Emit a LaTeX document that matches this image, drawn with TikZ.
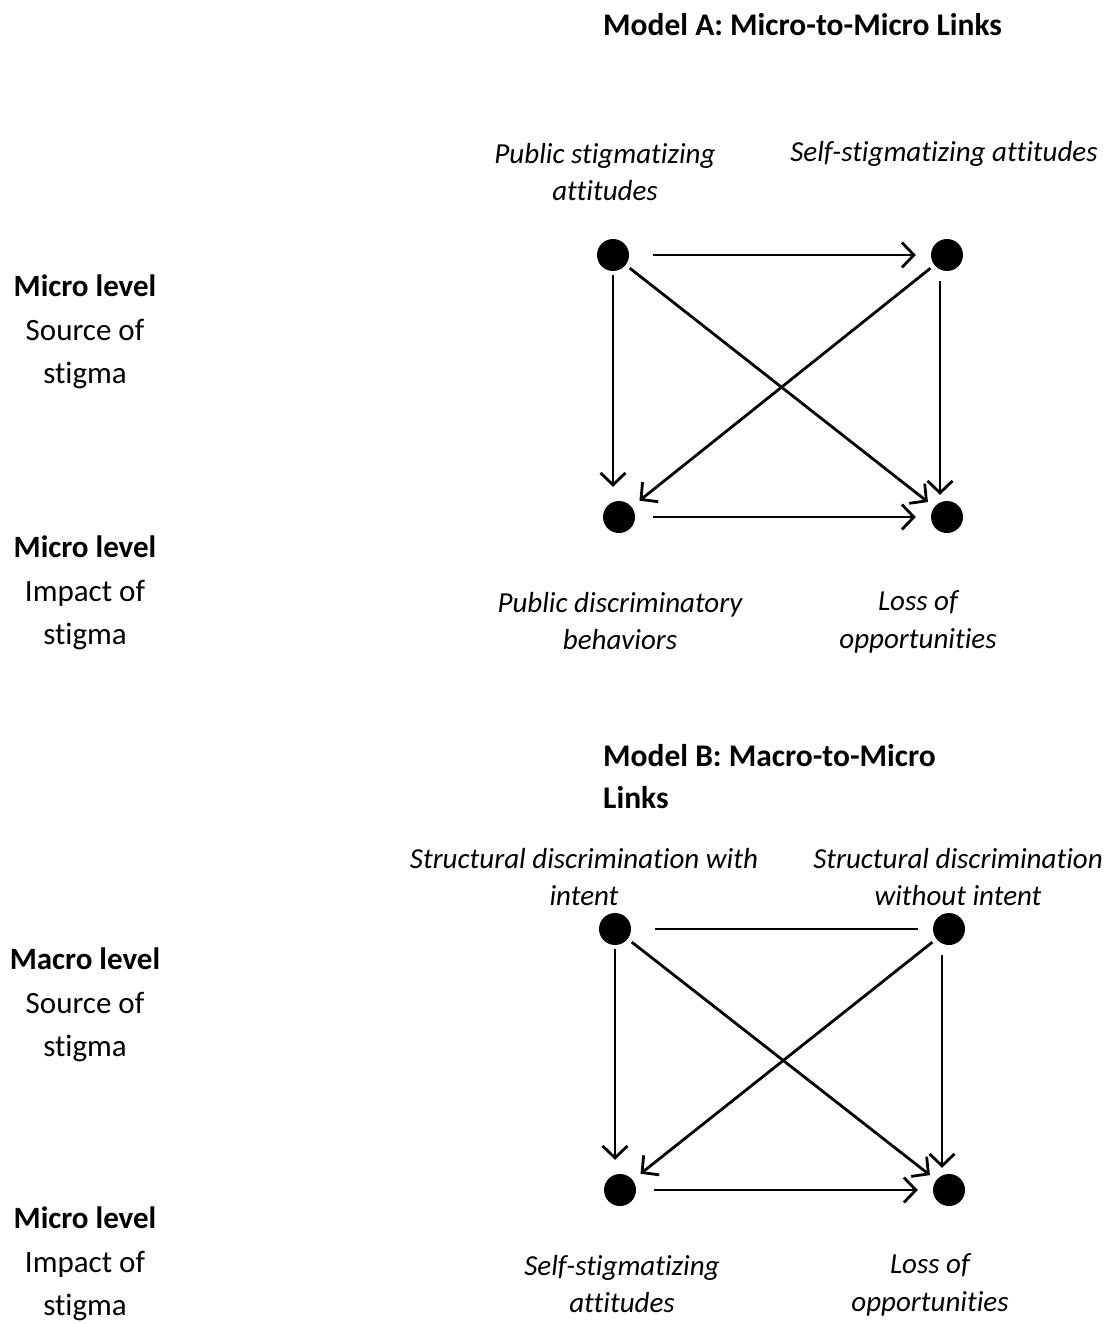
\documentclass[tikz,border=0pt]{standalone}
\usepackage{fontspec}
\setmainfont[Ligatures=NoCommon]{Carlito}
\usetikzlibrary{arrows.meta}
\begin{document}
\begin{tikzpicture}[x=1pt,y=-1pt,
  dot/.style={circle,fill=black,inner sep=0pt,minimum size=32pt},
  link/.style={line width=2.8pt,-{Straight Barb[length=12pt,width=25pt,line width=2.8pt]}},
  plainlink/.style={line width=2.8pt},
  side/.style={align=center,font=\fontsize{31}{43.5}\selectfont,inner sep=0pt},
  title/.style={align=left,anchor=west,font=\fontsize{31.5}{42}\selectfont\bfseries,inner sep=0pt},
  lab/.style={align=center,font=\fontsize{29}{37.5}\selectfont\itshape,inner sep=0pt}]
\useasboundingbox (0,0) rectangle (1107,1324);
% left labels
\node[side] (s1) at (85,332) {\textbf{Micro level}\\Source of\\stigma};
\node[side] (s2) at (85,593) {\textbf{Micro level}\\Impact of\\stigma};
\node[side] (s3) at (85,1005) {\textbf{Macro level}\\Source of\\stigma};
\node[side] (s4) at (85,1264) {\textbf{Micro level}\\Impact of\\stigma};
% Model A
\node[title] (ta) at (603,25) {Model A: Micro-to-Micro Links};
\node[lab] (la1) at (605,172) {Public stigmatizing\\attitudes};
\node[lab] (la2) at (944,154) {Self-stigmatizing attitudes};
\node[lab] (la3) at (620,621) {Public discriminatory\\behaviors};
\node[lab] (la4) at (918,622) {Loss of\\opportunities};
\node[dot] (a1) at (613,255) {};
\node[dot] (a2) at (947,255) {};
\node[dot] (a3) at (619,517) {};
\node[dot] (a4) at (947,517) {};
\draw[link,shorten <=24pt,shorten >=15pt] (a1) -- (a2);
\draw[link,shorten <=4pt,shorten >=14pt] (a1.south) -- (a1.south |- a3.north);
\draw[link,shorten <=5pt,shorten >=8pt] (a1) -- (a4);
\draw[link,shorten <=5pt,shorten >=10pt] (a2) -- (a3);
\draw[link,shorten <=10pt,shorten >=6pt] ([xshift=-7pt]a2.south) -- ([xshift=-7pt]a4.north);
\draw[link,shorten <=18pt,shorten >=15pt] (a3) -- (a4);
% Model B
\node[title] (tb) at (603,777) {Model B: Macro-to-Micro\\Links};
\node[lab] (lb1) at (584,877) {Structural discrimination with\\intent};
\node[lab] (lb2) at (958,877) {Structural discrimination\\without intent};
\node[lab] (lb3) at (622,1284) {Self-stigmatizing\\attitudes};
\node[lab] (lb4) at (930,1285) {Loss of\\opportunities};
\node[dot] (b1) at (615,929) {};
\node[dot] (b2) at (949,929) {};
\node[dot] (b3) at (620,1190) {};
\node[dot] (b4) at (949,1190) {};
\draw[plainlink,shorten <=24pt,shorten >=15pt] (b1) -- (b2);
\draw[link,shorten <=4pt,shorten >=14pt] (b1.south) -- (b1.south |- b3.north);
\draw[link,shorten <=5pt,shorten >=8pt] (b1) -- (b4);
\draw[link,shorten <=5pt,shorten >=10pt] (b2) -- (b3);
\draw[link,shorten <=10pt,shorten >=6pt] ([xshift=-7pt]b2.south) -- ([xshift=-7pt]b4.north);
\draw[link,shorten <=18pt,shorten >=15pt] (b3) -- (b4);
\end{tikzpicture}
\end{document}
